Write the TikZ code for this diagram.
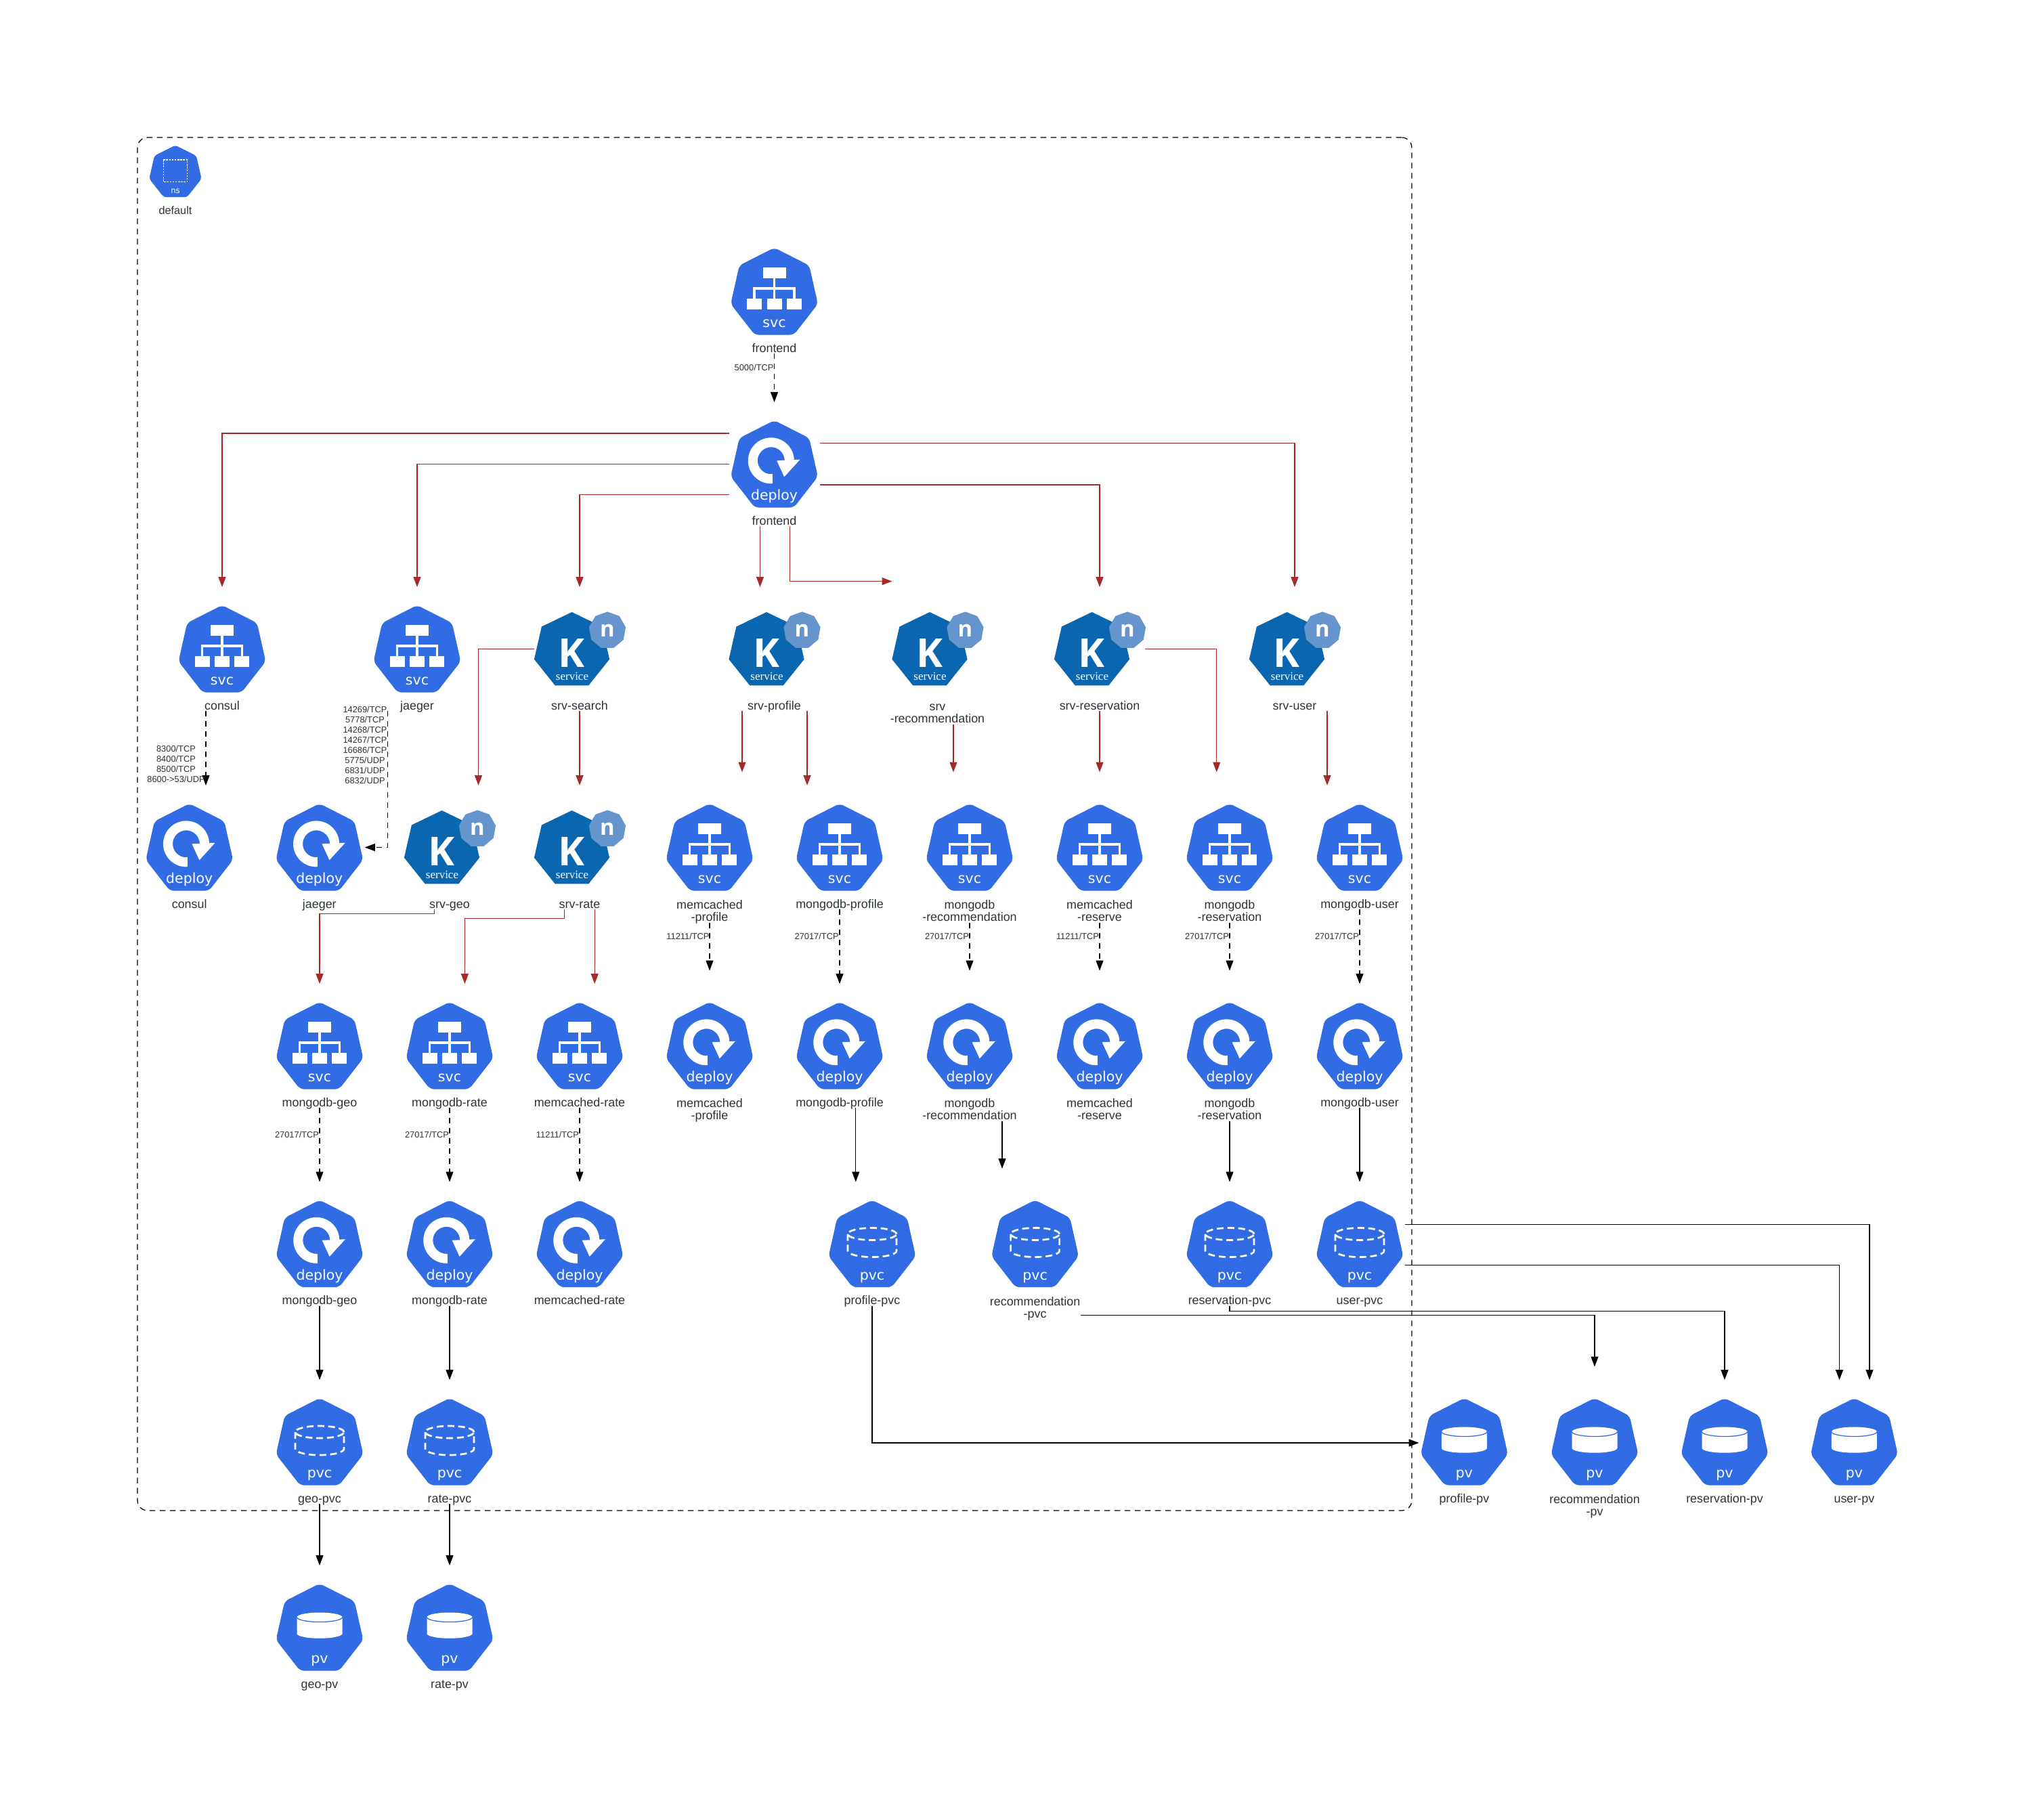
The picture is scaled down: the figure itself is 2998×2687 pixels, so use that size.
\documentclass[tikz,border=0pt]{standalone}
\usepackage{fontspec}
\setmainfont{Liberation Sans}
\newfontfamily\iconfont{DejaVu Sans}
\newfontfamily\kfont{Open Sans}
\newfontfamily\serfont{Liberation Serif}
\usetikzlibrary{arrows.meta,calc}
\definecolor{kblue}{HTML}{326CE5}
\definecolor{kdark}{HTML}{0A66AE}
\definecolor{klight}{HTML}{6595CC}
\definecolor{ktext}{HTML}{2D3436}
\definecolor{kred}{HTML}{A52A2A}
\tikzset{
  x=0.24pt,y=0.24pt,
  nbox/.style={inner sep=0pt,outer sep=0pt,minimum width=32.16pt,minimum height=43.92pt},
  nboxtall/.style={inner sep=0pt,outer sep=0pt,minimum width=32.16pt,minimum height=53.28pt},
  lbl/.style={inner sep=0pt,outer sep=0pt,anchor=base,align=center,text=ktext,font=\fontsize{4.3}{4.32}\selectfont},
  elbl/.style={inner sep=0pt,outer sep=0pt,anchor=base east,text=ktext,font=\fontsize{3.08}{3.6}\selectfont},
  elblm/.style={inner sep=0pt,outer sep=0pt,anchor=base,align=center,text=ktext,font=\fontsize{3.08}{3.6}\selectfont},
  icontext/.style={inner sep=0pt,outer sep=0pt,anchor=base,text=white,font=\iconfont\fontsize{4.92}{5}\selectfont},
  redge/.style={draw=kred,line width=0.3pt,-{Triangle[length=3.6pt,width=2.64pt,fill=kred]}},
  bedge/.style={draw=black,line width=0.3pt,-{Triangle[length=3.6pt,width=2.64pt,fill=black]}},
  dedge/.style={bedge,dash pattern=on 2pt off 1.6pt},
  hept/.pic={\fill[kblue,rounded corners=1.5pt] (0,1.2) -- (51.6,-25) -- (64.4,-81.9) -- (28.8,-127.6) -- (-28.8,-127.6) -- (-64.4,-81.9) -- (-51.6,-25) -- cycle;},
  svcpic/.pic={
    \pic {hept};
    \fill[white] (-17,-27.7) rectangle (17,-43.7);
    \fill[white] (-1.7,-43.7) rectangle (1.7,-74.3);
    \fill[white] (-31.2,-57.3) rectangle (31.2,-60.7);
    \fill[white] (-31.2,-57.3) rectangle (-27.8,-74.3);
    \fill[white] (27.8,-57.3) rectangle (31.2,-74.3);
    \fill[white] (-40.3,-74.3) rectangle (-18.3,-90);
    \fill[white] (-11,-74.3) rectangle (11,-90);
    \fill[white] (18.3,-74.3) rectangle (40.3,-90);
    \node[icontext] (glyph) at (0,-116.5) {svc};
  },
  deploypic/.pic={
    \pic {hept};
    \fill[white] (-4.7,-92.3) arc[start angle=270,end angle=0,radius=34] -- (15.3,-58.3) arc[start angle=0,end angle=270,radius=20] -- cycle;
    \fill[white] (-4.7,-78.3) rectangle (-3,-92.3);
    \fill[white] (3.7,-58.3) -- (38,-56.7) -- (14.7,-82.3) -- cycle;
    \node[icontext] (glyph) at (0,-116.5) {deploy};
  },
  pvcpic/.pic={
    \pic {hept};
    \begin{scope}[white,line width=0.65pt,dash pattern=on 2.4pt off 1.4pt]
      \draw (0,-49) ellipse [x radius=36,y radius=9];
      \draw (-36,-49) -- (-36,-74) arc[start angle=180,end angle=360,x radius=36,y radius=9] -- (36,-49);
    \end{scope}
    \node[icontext] (glyph) at (0,-116.5) {pvc};
  },
  pvpic/.pic={
    \pic {hept};
    \fill[white] (-33.5,-48.5) -- (-33.5,-72.7) arc[start angle=180,end angle=360,x radius=33.5,y radius=7] -- (33.5,-48.5) -- cycle;
    \fill[white] (0,-48.5) ellipse [x radius=33.5,y radius=7];
    \draw[kblue,line width=0.3pt] (-33.5,-48.5) arc[start angle=180,end angle=360,x radius=33.5,y radius=7];
    \node[icontext] (glyph) at (0,-116.5) {pv};
  },
  kpic/.pic={
    \fill[kdark] (-11.5,-9) -- (33.1,-30.5) -- (44.1,-78.7) -- (13.2,-117.4) -- (-36.2,-117.4) -- (-67.1,-78.7) -- (-56.1,-30.5) -- cycle;
    \fill[klight] (41,-8.5) -- (58.7,-14.9) -- (68.1,-31.2) -- (64.8,-49.75) -- (50.4,-61.8) -- (31.6,-61.8) -- (17.2,-49.75) -- (13.9,-31.2) -- (23.3,-14.9) -- cycle;
    \node[inner sep=0pt,outer sep=0pt,anchor=base,text=white,font=\kfont\bfseries\fontsize{14.1}{14.1}\selectfont] (glyph) at (-12,-90) {K};
    \node[inner sep=0pt,outer sep=0pt,anchor=base,text=white,font=\serfont\fontsize{4.08}{4.08}\selectfont] (sub) at (-11,-109) {service};
    \node[inner sep=0pt,outer sep=0pt,anchor=base,text=white,font=\kfont\bfseries\fontsize{7.9}{7.9}\selectfont] (n) at (41,-45) {n};
  },
  nspic/.pic={
    \fill[kblue,rounded corners=0.9pt] (0,0.5) -- (31,-15.1) -- (38.6,-49) -- (17.2,-76.2) -- (-17.2,-76.2) -- (-38.6,-49) -- (-31,-15.1) -- cycle;
    \draw[white,line width=0.3pt,dash pattern=on 0.6pt off 0.4pt] (-17.8,-21) rectangle (17.8,-53.3);
    \node[inner sep=0pt,outer sep=0pt,anchor=base,text=white,font=\iconfont\fontsize{2.8}{3}\selectfont] (glyph) at (0,-70) {ns};
  }
}
% name, x, top, pic, label
\newcommand{\kn}[5]{%
  \node[nbox] (#1) at (#2,{-(#3+63.5)}) {};
  \pic (#1-) at (#2,{-#3}) {#4};
  \node[lbl] (#1-l) at (#2,{-(#3+153)}) {#5};
}
\newcommand{\knn}[5]{%
  \node[nboxtall] (#1) at (#2,{-(#3+63.5)}) {};
  \pic (#1-) at (#2,{-#3}) {#4};
  \node[lbl] (#1-l) at (#2,{-(#3+172.5)}) {#5};
}
% style, source, x offset, target
\newcommand{\vedge}[4]{%
  \path ($(#2.south)+(#3,0)$) coordinate (tmpc);
  \draw[#1] (tmpc) -- (tmpc |- #4.north);
}
\begin{document}
\begin{tikzpicture}
\fill[white] (0,0) rectangle (2998,-2687);
\node[draw=black,line width=0.3pt,dash pattern=on 2pt off 1.6pt,rounded corners=3.6pt,inner sep=0pt,outer sep=0pt,minimum width=451.68pt,minimum height=486.72pt] (nsbox) at (1144,-1217) {};
\pic (ns-) at (259,-215) {nspic};
\node[lbl,font=\fontsize{3.9}{4}\selectfont] (ns-l) at (259,-316) {default};

% row 0, 1
\kn{fs}{1143.5}{367}{svcpic}{frontend}
\kn{fd}{1143.5}{622}{deploypic}{frontend}
% row 2
\kn{consuls}{328}{895}{svcpic}{consul}
\kn{jaegers}{616}{895}{svcpic}{jaeger}
\kn{search}{856}{895}{kpic}{srv-search}
\kn{sprofile}{1143.5}{895}{kpic}{srv-profile}
\knn{srec}{1384.5}{895}{kpic}{srv\\-recommendation}
\kn{sres}{1624}{895}{kpic}{srv-reservation}
\kn{suser}{1912}{895}{kpic}{srv-user}
% row 3
\kn{consuld}{279.7}{1188}{deploypic}{consul}
\kn{jaegerd}{471.8}{1188}{deploypic}{jaeger}
\kn{sgeo}{664}{1188}{kpic}{srv-geo}
\kn{srate}{856}{1188}{kpic}{srv-rate}
\knn{mcps}{1048}{1188}{svcpic}{memcached\\-profile}
\kn{mgps}{1240}{1188}{svcpic}{mongodb-profile}
\knn{mgrecs}{1432}{1188}{svcpic}{mongodb\\-recommendation}
\knn{mcress}{1624}{1188}{svcpic}{memcached\\-reserve}
\knn{mgress}{1816}{1188}{svcpic}{mongodb\\-reservation}
\kn{mgus}{2008}{1188}{svcpic}{mongodb-user}
% row 4
\kn{mggs}{472}{1481}{svcpic}{mongodb-geo}
\kn{mgrs}{664}{1481}{svcpic}{mongodb-rate}
\kn{mcrs}{856}{1481}{svcpic}{memcached-rate}
\knn{mcpd}{1048}{1481}{deploypic}{memcached\\-profile}
\kn{mgpd}{1240}{1481}{deploypic}{mongodb-profile}
\knn{mgrecd}{1432}{1481}{deploypic}{mongodb\\-recommendation}
\knn{mcresd}{1624}{1481}{deploypic}{memcached\\-reserve}
\knn{mgresd}{1816}{1481}{deploypic}{mongodb\\-reservation}
\kn{mgud}{2008}{1481}{deploypic}{mongodb-user}
% row 5
\kn{mggd}{472}{1773.5}{deploypic}{mongodb-geo}
\kn{mgrd}{664}{1773.5}{deploypic}{mongodb-rate}
\kn{mcrd}{856}{1773.5}{deploypic}{memcached-rate}
\kn{ppvc}{1288}{1773.5}{pvcpic}{profile-pvc}
\knn{recpvc}{1528.6}{1773.5}{pvcpic}{recommendation\\-pvc}
\kn{respvc}{1816}{1773.5}{pvcpic}{reservation-pvc}
\kn{upvc}{2008}{1773.5}{pvcpic}{user-pvc}
% row 6
\kn{gpvc}{472}{2066}{pvcpic}{geo-pvc}
\kn{rpvc}{664}{2066}{pvcpic}{rate-pvc}
\kn{ppv}{2162.5}{2066}{pvpic}{profile-pv}
\knn{recpv}{2355}{2066}{pvpic}{recommendation\\-pv}
\kn{respv}{2547}{2066}{pvpic}{reservation-pv}
\kn{upv}{2738.4}{2066}{pvpic}{user-pv}
% row 7
\kn{gpv}{472}{2340}{pvpic}{geo-pv}
\kn{rpv}{664}{2340}{pvpic}{rate-pv}

% red edges from frontend deploy
\draw[redge] ($(fd.west)+(0,45.5)$) -| (consuls.north);
\draw[redge] (fd.west) -| (jaegers.north);
\draw[redge] ($(fd.west)+(0,-45)$) -| (search.north);
\vedge{redge}{fd}{-21}{sprofile}
\draw[redge] ($(fd.south)+(22.8,0)$) |- ($(srec.west)+(0,100)$);
\draw[redge] ($(fd.east)+(0,-30.5)$) -| (sres.north);
\draw[redge] ($(fd.east)+(0,30.8)$) -| (suser.north);
% frontend
\vedge{dedge}{fs}{0}{fd}
\node[elbl] (e1) at (1142.5,-547.5) {5000/TCP};
% consul, jaeger
\vedge{dedge}{consuls}{-24}{consuld}
\node[elblm] (e2) at (260,-1155) {8300/TCP\\8400/TCP\\8500/TCP\\8600->53/UDP};
\draw[dedge] ($(jaegers.south)+(-43.3,0)$) |- (jaegerd.east);
\node[elblm] (e3) at (539,-1157.8) {14269/TCP\\5778/TCP\\14268/TCP\\14267/TCP\\16686/TCP\\5775/UDP\\6831/UDP\\6832/UDP};
% knative services
\draw[redge] (search.west) -| ($(sgeo.north)+(42.5,0)$);
\vedge{redge}{search}{0}{srate}
\vedge{redge}{sprofile}{-47.5}{mcps}
\vedge{redge}{sprofile}{48.5}{mgps}
\vedge{redge}{srec}{23.5}{mgrecs}
\vedge{redge}{sres}{0}{mcress}
\draw[redge] (sres.east) -| ($(mgress.north)+(-19.2,0)$);
\vedge{redge}{suser}{48}{mgus}
\draw[redge] ($(sgeo.south)+(-22.2,0)$) -- ++(0,-6.6) -| (mggs.north);
\draw[redge] ($(srate.south)+(-22.4,0)$) -- ++(0,-13.6) -| ($(mgrs.north)+(22.4,0)$);
\vedge{redge}{srate}{22.2}{mcrs}
% svc to deploy
\vedge{dedge}{mcps}{0}{mcpd}
\vedge{dedge}{mgps}{0}{mgpd}
\vedge{dedge}{mgrecs}{0}{mgrecd}
\vedge{dedge}{mcress}{0}{mcresd}
\vedge{dedge}{mgress}{0}{mgresd}
\vedge{dedge}{mgus}{0}{mgud}
\vedge{dedge}{mggs}{0}{mggd}
\vedge{dedge}{mgrs}{0}{mgrd}
\vedge{dedge}{mcrs}{0}{mcrd}
\node[elbl] (e4) at (1047.5,-1387.8) {11211/TCP};
\node[elbl] (e5) at (1238.6,-1387.8) {27017/TCP};
\node[elbl] (e6) at (1431,-1387.8) {27017/TCP};
\node[elbl] (e7) at (1623,-1387.8) {11211/TCP};
\node[elbl] (e8) at (1815,-1387.8) {27017/TCP};
\node[elbl] (e9) at (2007,-1387.8) {27017/TCP};
\node[elbl] (e10) at (471,-1680.5) {27017/TCP};
\node[elbl] (e11) at (663,-1680.5) {27017/TCP};
\node[elbl] (e12) at (855,-1680.5) {11211/TCP};
% deploy to pvc
\vedge{bedge}{mgpd}{23.8}{ppvc}
\vedge{bedge}{mgrecd}{48}{recpvc}
\vedge{bedge}{mgresd}{0}{respvc}
\vedge{bedge}{mgud}{0}{upvc}
\vedge{bedge}{mggd}{0}{gpvc}
\vedge{bedge}{mgrd}{0}{rpvc}
% pvc to pv
\vedge{bedge}{gpvc}{0}{gpv}
\vedge{bedge}{rpvc}{0}{rpv}
\draw[bedge] (ppvc.south) |- ($(ppv.west)+(0,-1.5)$);
\draw[bedge] ($(recpvc.east)+(0,-105.2)$) -| (recpv.north);
\draw[bedge] (respvc.south) -- ++(0,-8) -| (respv.north);
\draw[bedge] ($(upvc.east)+(0,28.5)$) -| ($(upv.north)+(22.6,0)$);
\draw[bedge] ($(upvc.east)+(0,-31.2)$) -| ($(upv.north)+(-21.9,0)$);
\end{tikzpicture}
\end{document}
